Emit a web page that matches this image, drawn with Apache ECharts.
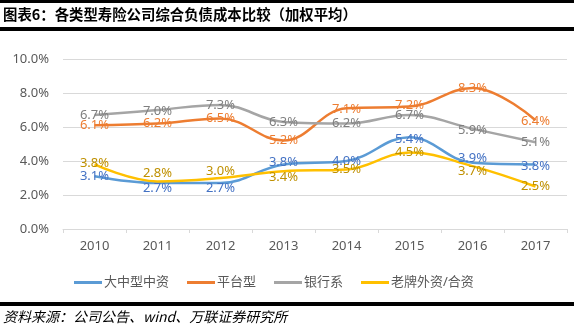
<!DOCTYPE html>
<html><head><meta charset="utf-8">
<script src="https://cdn.jsdelivr.net/npm/echarts@6/dist/echarts.min.js"></script>
<style>html,body{margin:0;padding:0;background:#fff}#c{width:574px;height:328px}</style>
</head><body><div id="c"></div>
<script>
var years = ['2010','2011','2012','2013','2014','2015','2016','2017'];
var seriesNames = ['大中型中资','平台型','银行系','老牌外资/合资'];
var bigChinese = [3.1, 2.7, 2.7, 3.8, 4.0, 5.4, 3.9, 3.8];
var platform = [6.1, 6.2, 6.5, 5.2, 7.1, 7.2, 8.3, 6.4];
var bank = [6.7, 7.0, 7.3, 6.3, 6.2, 6.7, 5.9, 5.1];
var foreignJV = [3.8, 2.8, 3.0, 3.4, 3.5, 4.5, 3.7, 2.5];
var yTicks = [0, 2, 4, 6, 8, 10];

// label vertical nudges (style only)
var labelDy = [
  [0, 5, 5, -2, 0, 2, -4, 2],
  [0, 0, 0, 0, 1, -1, 0, 1],
  [0, 1, 0, 0, 0, 0, 2, 0],
  [-1, -8, -7, 6, 0, 0, 5, 0]
];
var lineColors = ['#5B9BD5', '#ED7D31', '#A5A5A5', '#FFC000'];
var labelColors = ['#4472C4', '#ED7D31', '#7F7F7F', '#BF9000'];
var allData = [bigChinese, platform, bank, foreignJV];

var font = 'Noto Sans, Noto Sans CJK SC, sans-serif';
var series = allData.map(function (arr, si) {
  return {
    name: seriesNames[si],
    type: 'line',
    smooth: 0.4,
    symbol: 'circle',
    symbolSize: 0,
    showSymbol: true,
    lineStyle: { width: 2.5, color: lineColors[si] },
    itemStyle: { color: lineColors[si] },
    label: {
      show: true, position: 'inside', color: labelColors[si],
      fontSize: 13, fontFamily: font,
      formatter: function (p) { return p.value.toFixed(1) + '%'; }
    },
    emphasis: { disabled: true },
    data: arr.map(function (v, i) {
      return { value: v, label: { offset: [0, labelDy[si][i]] } };
    })
  };
});

var chart = echarts.init(document.getElementById('c'), null, { renderer: 'canvas' });
chart.setOption({
  animation: false,
  backgroundColor: '#fff',
  grid: { left: 63, right: 7, top: 59, bottom: 99 },
  xAxis: {
    type: 'category', data: years, boundaryGap: true,
    axisLine: { lineStyle: { color: '#D9D9D9', width: 1 } },
    axisTick: { show: true, length: 4, lineStyle: { color: '#D9D9D9' } },
    axisLabel: { color: '#595959', fontSize: 13, fontFamily: font, margin: 11 }
  },
  yAxis: {
    type: 'value', min: yTicks[0], max: yTicks[yTicks.length - 1], interval: 2,
    axisLine: { show: false }, axisTick: { show: false },
    splitLine: { lineStyle: { color: '#D9D9D9', width: 1 } },
    axisLabel: { color: '#595959', fontSize: 13, fontFamily: font, margin: 14,
      formatter: function (v) { return v.toFixed(1) + '%'; } }
  },
  legend: {
    data: seriesNames, left: 69, top: 271, itemGap: 18,
    icon: 'rect', itemWidth: 28, itemHeight: 3,
    textStyle: { color: '#595959', fontSize: 13, fontFamily: font, padding: [0, 0, 0, -3] }
  },
  graphic: [
    { type: 'rect', shape: { x: 0, y: 0, width: 574, height: 3 }, style: { fill: '#000' } },
    { type: 'rect', shape: { x: 0, y: 27, width: 574, height: 4 }, style: { fill: '#000' } },
    { type: 'text', left: 3, top: 7, style: { text: '图表6：各类型寿险公司综合负债成本比较（加权平均）',
      fill: '#000', font: 'bold 14.4px "Noto Sans CJK SC", sans-serif' } },
    { type: 'rect', shape: { x: 0, y: 302, width: 574, height: 4 }, style: { fill: '#000' } },
    { type: 'text', left: 3, top: 310, style: { text: '资料来源：公司公告、wind、万联证券研究所',
      fill: '#000', font: 'italic 14px "Noto Sans CJK SC", sans-serif' } }
  ],
  series: series
});
</script></body></html>
